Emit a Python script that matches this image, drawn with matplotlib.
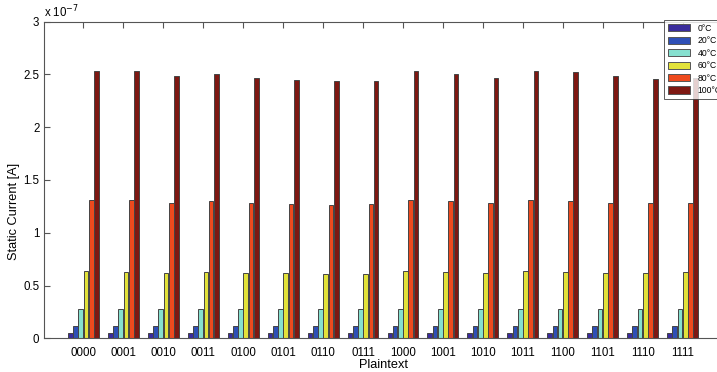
import numpy as np
import matplotlib
matplotlib.use("Agg")
import matplotlib.pyplot as plt
from matplotlib.ticker import FuncFormatter, MultipleLocator

plt.rcParams['font.family'] = ['Liberation Sans', 'DejaVu Sans']

# Static current per plaintext, in units of 1e-7 A
plaintexts = ['0000', '0001', '0010', '0011', '0100', '0101', '0110', '0111',
              '1000', '1001', '1010', '1011', '1100', '1101', '1110', '1111']
temps = ['0°C', '20°C', '40°C', '60°C', '80°C', '100°C']
SCALE = 1e-7

cur_0 = [0.053, 0.053, 0.052, 0.053, 0.052, 0.052, 0.051, 0.052,
         0.053, 0.053, 0.052, 0.053, 0.053, 0.052, 0.052, 0.052]
cur_20 = [0.117, 0.117, 0.115, 0.116, 0.115, 0.114, 0.113, 0.114,
          0.117, 0.116, 0.115, 0.117, 0.116, 0.115, 0.115, 0.115]
cur_40 = [0.28, 0.28, 0.277, 0.279, 0.276, 0.275, 0.273, 0.274,
          0.28, 0.279, 0.277, 0.28, 0.279, 0.277, 0.276, 0.276]
cur_60 = [0.64, 0.63, 0.62, 0.63, 0.62, 0.615, 0.61, 0.612,
          0.64, 0.63, 0.62, 0.64, 0.63, 0.62, 0.618, 0.625]
cur_80 = [1.31, 1.31, 1.285, 1.30, 1.28, 1.27, 1.26, 1.27,
          1.31, 1.30, 1.28, 1.31, 1.30, 1.285, 1.28, 1.285]
cur_100 = [2.53, 2.53, 2.485, 2.50, 2.47, 2.45, 2.435, 2.44,
           2.53, 2.50, 2.47, 2.53, 2.52, 2.485, 2.46, 2.47]
# small reference current drawn between the 40°C and 60°C bars
cur_ref = [0.063, 0.063, 0.062, 0.063, 0.062, 0.062, 0.061, 0.062,
           0.063, 0.063, 0.062, 0.063, 0.063, 0.062, 0.062, 0.062]

series = [cur_0, cur_20, cur_40, cur_60, cur_80, cur_100]
colors = ['#3a2c9c', '#2e4fb6', '#86e0cf', '#e2e23a', '#ee4a1e', '#7e1812']

fig = plt.figure(figsize=(7.17, 3.72), dpi=100)
ax = fig.add_axes([43.5 / 717, 33.7 / 372, 679 / 717, 316.6 / 372])

x = np.arange(1, len(plaintexts) + 1)
step = 0.131
width = 0.118
offsets = (np.arange(len(series)) - (len(series) - 1) / 2) * step

ax.bar(x + 0.012, np.array(cur_ref) * SCALE, width=0.04, color='black',
       edgecolor='black', linewidth=0.3, zorder=1, label='_nolegend_')
for vals, off, col, lab in zip(series, offsets, colors, temps):
    ax.bar(x + off, np.array(vals) * SCALE, width=width, color=col,
           edgecolor='#444444', linewidth=0.7, label=lab, zorder=2)

ax.set_xlim(0, 17)
ax.set_ylim(0, 3 * SCALE)
ax.set_xticks(x)
ax.set_xticklabels(plaintexts)
ax.yaxis.set_major_locator(MultipleLocator(0.5 * SCALE))
ax.yaxis.set_major_formatter(FuncFormatter(lambda v, p: f'{v / SCALE:g}'))

ax.tick_params(direction='in', length=4, width=0.8, color='#555555',
               labelsize=8.3, top=True, right=True, pad=3)
ax.tick_params(axis='x', pad=6)
for s in ax.spines.values():
    s.set_color('#555555')
    s.set_linewidth(0.8)

ax.set_xlabel('Plaintext', fontsize=9.2)
ax.xaxis.set_label_coords(0.5, -0.065)
ax.set_ylabel('Static Current [A]', fontsize=9.2)
ax.yaxis.set_label_coords(-0.035, 0.40)

ax.text(0.0, 1.005, r'x 10$^{-7}$', transform=ax.transAxes, fontsize=8.3,
        ha='left', va='bottom')

leg = fig.legend(loc='upper left', bbox_to_anchor=(664 / 717, 1 - 19.5 / 372),
                 fontsize=6.2, frameon=True, fancybox=False, edgecolor='#333333',
                 handlelength=2.5, handleheight=0.9, labelspacing=0.4,
                 handletextpad=0.9, borderpad=0.5, borderaxespad=0)
leg.get_frame().set_linewidth(0.7)
for h in leg.legend_handles:
    h.set_edgecolor('#555555')

fig.savefig('out.png', dpi=100)
